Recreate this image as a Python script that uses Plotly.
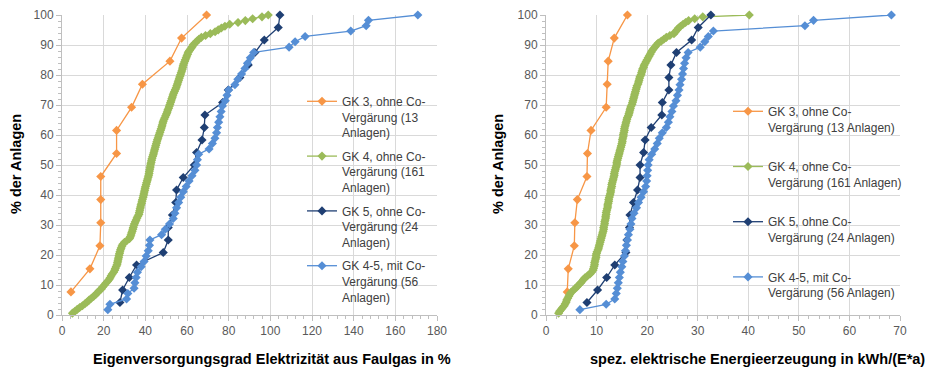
import plotly.graph_objects as go

# ---------------- data ----------------
series_names_left = [
    "GK 3, ohne Co-<br>Vergärung (13<br>Anlagen)",
    "GK 4, ohne Co-<br>Vergärung (161<br>Anlagen)",
    "GK 5, ohne Co-<br>Vergärung (24<br>Anlagen)",
    "GK 4-5, mit Co-<br>Vergärung (56<br>Anlagen)",
]
series_names_right = [
    "GK 3, ohne Co-<br>Vergärung (13 Anlagen)",
    "GK 4, ohne Co-<br>Vergärung (161 Anlagen)",
    "GK 5, ohne Co-<br>Vergärung (24 Anlagen)",
    "GK 4-5, mit Co-<br>Vergärung (56 Anlagen)",
]

# Left: Eigenversorgungsgrad Elektrizität aus Faulgas in % (sorted values per plant)
gk3_left = [4.3, 13.4, 18.2, 18.6, 18.6, 18.6, 26.2, 26.2, 33.4, 38.6, 51.8, 57.4, 69.4]
gk4_left = [
    5.0, 6.2, 7.3, 8.5, 9.8, 11.0, 12.1, 13.0, 14.1, 15.2,
    16.2, 17.0, 17.8, 18.9, 19.5, 20.3, 21.0, 21.8, 22.6, 23.1,
    23.6, 24.1, 24.8, 25.3, 25.6, 26.0, 26.4, 26.6, 26.8, 27.0,
    27.2, 27.4, 27.6, 27.8, 28.1, 28.4, 28.8, 29.2, 30.0, 31.2,
    32.4, 32.8, 33.1, 33.4, 33.7, 34.0, 34.2, 34.5, 34.8, 35.2,
    35.6, 36.0, 36.4, 36.9, 37.1, 37.3, 37.5, 37.7, 37.9, 38.2,
    38.4, 38.6, 38.9, 39.1, 39.3, 39.5, 39.7, 39.9, 40.1, 40.4,
    40.6, 40.9, 41.1, 41.4, 41.6, 41.8, 41.9, 42.1, 42.3, 42.4,
    42.6, 42.8, 43.0, 43.2, 43.5, 43.8, 44.0, 44.3, 44.5, 44.8,
    45.0, 45.3, 45.5, 45.8, 46.1, 46.4, 46.7, 47.0, 47.3, 47.6,
    47.9, 48.1, 48.4, 48.6, 49.0, 49.4, 49.8, 50.2, 50.5, 50.8,
    51.2, 51.5, 51.8, 52.1, 52.4, 52.7, 53.0, 53.3, 53.6, 54.0,
    54.4, 54.8, 55.1, 55.4, 55.7, 56.0, 56.3, 56.6, 56.9, 57.2,
    57.5, 57.8, 58.0, 58.2, 58.5, 58.9, 59.2, 59.6, 59.9, 60.3,
    60.6, 61.2, 61.9, 62.5, 63.0, 63.9, 64.8, 65.7, 66.9, 68.9,
    71.2, 73.5, 75.0, 76.5, 78.2, 80.5, 84.5, 88.0, 91.5, 96.0,
    99.0,
]
gk5_left = [27.8, 29.1, 32.3, 35.8, 48.6, 51.0, 51.0, 53.0, 54.6, 55.0,
            58.2, 63.5, 64.6, 67.2, 68.3, 68.6, 77.1, 79.8, 85.4, 89.4,
            92.6, 97.1, 103.8, 104.6]
gk45_left = [22.0, 23.0, 31.0, 31.6, 34.6, 35.0, 35.6, 36.2, 38.0, 39.4,
             40.4, 41.4, 42.0, 42.2, 47.8, 49.6, 51.6, 53.4, 54.2, 55.0,
             56.0, 57.0, 58.2, 59.6, 61.0, 62.4, 63.8, 64.6, 65.0, 65.6,
             70.6, 72.2, 73.4, 74.2, 74.6, 75.2, 75.8, 76.4, 77.0, 78.4,
             79.2, 80.0, 83.0, 84.4, 86.2, 87.8, 89.0, 90.4, 92.0, 109.0,
             111.9, 116.7, 138.6, 146.0, 147.1, 170.8]

# Right: spez. elektrische Energieerzeugung in kWh/(E*a)
gk3_right = [4.2, 4.4, 5.6, 5.7, 6.2, 8.1, 8.2, 8.9, 11.9, 12.1, 12.3, 13.5, 16.1]
gk4_right = [
    2.5, 2.7, 3.0, 3.3, 3.6, 3.8, 4.0, 4.1, 4.3, 4.5,
    4.7, 4.9, 5.3, 5.7, 6.1, 6.4, 6.8, 7.1, 7.4, 7.7,
    8.2, 8.7, 9.0, 9.3, 9.4, 9.5, 9.6, 9.6, 9.7, 9.8,
    9.9, 9.9, 10.0, 10.1, 10.3, 10.4, 10.5, 10.6, 10.7, 10.8,
    10.9, 11.0, 11.1, 11.2, 11.3, 11.4, 11.4, 11.5, 11.6, 11.6,
    11.7, 11.8, 11.8, 11.9, 11.9, 12.0, 12.1, 12.2, 12.2, 12.3,
    12.4, 12.4, 12.5, 12.6, 12.7, 12.8, 12.8, 12.9, 13.0, 13.0,
    13.1, 13.2, 13.3, 13.4, 13.5, 13.5, 13.6, 13.7, 13.8, 13.9,
    14.0, 14.0, 14.1, 14.2, 14.3, 14.4, 14.5, 14.6, 14.7, 14.8,
    14.9, 15.0, 15.1, 15.1, 15.2, 15.3, 15.3, 15.4, 15.5, 15.5,
    15.6, 15.7, 15.8, 15.9, 16.0, 16.1, 16.3, 16.4, 16.5, 16.6,
    16.7, 16.8, 17.0, 17.1, 17.2, 17.3, 17.4, 17.5, 17.6, 17.7,
    17.8, 17.9, 18.0, 18.2, 18.3, 18.4, 18.5, 18.6, 18.8, 18.9,
    19.0, 19.1, 19.3, 19.4, 19.6, 19.8, 20.0, 20.2, 20.4, 20.6,
    20.8, 21.0, 21.3, 21.6, 21.9, 22.2, 22.8, 23.3, 23.8, 24.5,
    25.3, 25.6, 25.9, 26.2, 26.6, 27.1, 27.6, 28.2, 29.4, 31.0,
    40.2,
]
gk5_right = [8.1, 10.2, 12.0, 13.6, 15.8, 16.0, 16.5, 16.6, 17.3, 18.1,
             18.6, 18.6, 19.3, 19.6, 20.8, 22.9, 23.0, 24.3, 24.3, 24.7,
             25.8, 28.8, 30.1, 32.6]
gk45_right = [6.7, 11.9, 13.6, 13.9, 14.1, 14.3, 14.5, 14.7, 15.0, 15.2,
              15.5, 15.7, 15.9, 16.1, 16.3, 16.6, 16.8, 17.0, 17.4, 17.9,
              18.3, 18.8, 19.3, 19.7, 19.9, 20.0, 20.1, 20.2, 20.4, 20.9,
              21.5, 22.0, 22.4, 23.0, 23.8, 24.2, 24.5, 24.9, 25.2, 25.7,
              26.0, 26.3, 26.5, 26.8, 27.0, 27.2, 27.4, 27.7, 28.1, 30.5,
              31.4, 32.1, 33.1, 51.2, 52.9, 68.3]

colors = ["#F79646", "#9BBB59", "#1F3F73", "#558ED5"]

# The page body has an 8px margin, so the figure is sized to fit the window
OFF = 8
W, H = 933 - OFF, 371 - OFF


def px_x(p):
    return (p - OFF) / W


def px_y(p):
    return 1 - (p - OFF) / H


def cum_share(values):
    n = len(values)
    return [100.0 * (k + 1) / n for k in range(n)]


fig = go.Figure()

left_sets = [gk3_left, gk4_left, gk5_left, gk45_left]
right_sets = [gk3_right, gk4_right, gk5_right, gk45_right]

for i, vals in enumerate(left_sets):
    fig.add_trace(go.Scatter(
        x=vals, y=cum_share(vals), mode="lines+markers",
        name=series_names_left[i], legend="legend", legendgroup="L%d" % i,
        line=dict(color=colors[i], width=1.3),
        marker=dict(symbol="diamond", size=7, color=colors[i]),
        xaxis="x", yaxis="y", cliponaxis=False,
    ))
for i, vals in enumerate(right_sets):
    fig.add_trace(go.Scatter(
        x=vals, y=cum_share(vals), mode="lines+markers",
        name=series_names_right[i], legend="legend2", legendgroup="R%d" % i,
        line=dict(color=colors[i], width=1.3),
        marker=dict(symbol="diamond", size=7, color=colors[i]),
        xaxis="x2", yaxis="y2", cliponaxis=False,
    ))

font_family = "Liberation Sans, Arial, sans-serif"
tick_font = dict(family=font_family, size=12, color="#595959")
grid_col = "#D9D9D9"
axis_col = "#BFBFBF"

common_x = dict(showgrid=True, gridcolor=grid_col, gridwidth=1, zeroline=False,
                showline=True, linecolor=axis_col, linewidth=1,
                ticks="outside", ticklen=5, tickcolor=axis_col, tickfont=tick_font,
                fixedrange=True, automargin=False)
common_y = dict(showgrid=True, gridcolor=grid_col, gridwidth=1, zeroline=False,
                showline=True, linecolor=axis_col, linewidth=1,
                ticks="outside", ticklen=5, tickcolor=axis_col, tickfont=tick_font,
                range=[0, 100], dtick=10, tick0=0,
                minor=dict(dtick=2, ticks="outside", ticklen=3, tickcolor=axis_col, showgrid=False),
                fixedrange=True, automargin=False)

title_font = dict(family=font_family, size=14.5, color="#000000")

fig.update_layout(
    width=W, height=H,
    margin=dict(l=0, r=0, t=0, b=0, pad=0, autoexpand=False),
    paper_bgcolor="white", plot_bgcolor="white",
    font=dict(family=font_family, color="#404040"),
    xaxis=dict(common_x, domain=[px_x(62), px_x(437)], range=[0, 180], dtick=20, tick0=0,
               minor=dict(dtick=4, ticks="outside", ticklen=3, tickcolor=axis_col, showgrid=False),
               anchor="y"),
    yaxis=dict(common_y, domain=[px_y(315), px_y(15)], anchor="x"),
    xaxis2=dict(common_x, domain=[px_x(546), px_x(900)], range=[0, 70], dtick=10, tick0=0,
                minor=dict(dtick=2, ticks="outside", ticklen=3, tickcolor=axis_col, showgrid=False),
                anchor="y2"),
    yaxis2=dict(common_y, domain=[px_y(315), px_y(15)], anchor="x2"),
    legend=dict(x=px_x(302), y=px_y(87), xanchor="left", yanchor="top",
                bgcolor="rgba(0,0,0,0)", borderwidth=0, valign="top", tracegroupgap=5,
                font=dict(family=font_family, size=12, color="#404040"),
                itemclick=False, itemdoubleclick=False),
    legend2=dict(x=px_x(728), y=px_y(97), xanchor="left", yanchor="top",
                 bgcolor="rgba(0,0,0,0)", borderwidth=0, valign="top", tracegroupgap=21,
                 font=dict(family=font_family, size=12, color="#404040"),
                 itemclick=False, itemdoubleclick=False),
    showlegend=True,
    shapes=[
        dict(type="rect", xref="paper", yref="paper", layer="between",
             x0=px_x(297), x1=px_x(440), y0=px_y(301), y1=px_y(92),
             fillcolor="white", line=dict(width=0)),
        dict(type="rect", xref="paper", yref="paper", layer="between",
             x0=px_x(738), x1=px_x(903), y0=px_y(301), y1=px_y(92),
             fillcolor="white", line=dict(width=0)),
    ],
    annotations=[
        dict(text="<b>% der Anlagen</b>", xref="paper", yref="paper",
             x=px_x(16), y=px_y(164), xanchor="center", yanchor="middle",
             textangle=-90, showarrow=False, font=title_font),
        dict(text="<b>% der Anlagen</b>", xref="paper", yref="paper",
             x=px_x(498), y=px_y(164), xanchor="center", yanchor="middle",
             textangle=-90, showarrow=False, font=title_font),
        dict(text="<b>Eigenversorgungsgrad Elektrizität aus Faulgas in %</b>", xref="paper", yref="paper",
             x=px_x(272), y=px_y(359), xanchor="center", yanchor="middle", showarrow=False,
             font=title_font),
        dict(text="<b>spez. elektrische Energieerzeugung in kWh/(E*a)</b>", xref="paper", yref="paper",
             x=px_x(757), y=px_y(359), xanchor="center", yanchor="middle", showarrow=False,
             font=title_font),
    ],
)

fig.write_html("out.html")
